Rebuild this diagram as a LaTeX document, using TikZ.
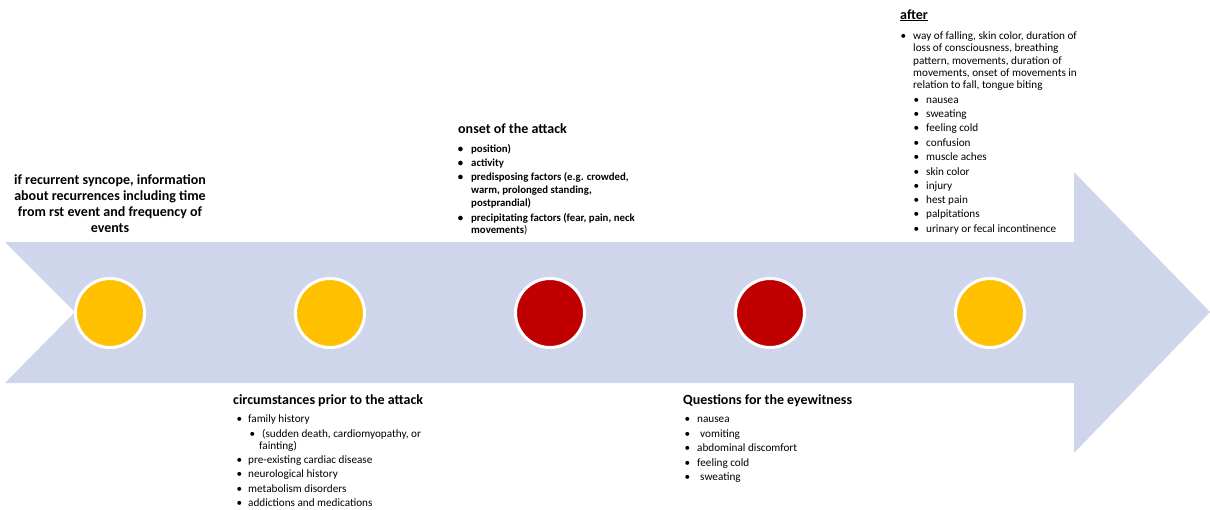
\documentclass[tikz,border=0pt]{standalone}
\usepackage{fontspec}
\setmainfont{Carlito}
\definecolor{band}{HTML}{CFD5EA}
\definecolor{gold}{HTML}{FFC000}
\definecolor{dred}{HTML}{C00000}
\newcommand{\bul}[1]{\llap{\textbullet\hspace{#1}}}
\begin{document}
\begin{tikzpicture}[x=1pt,y=-1pt,
  ln/.style={anchor=base west,inner sep=0pt,font=\fontsize{11.2}{12}\selectfont},
  lnb/.style={ln,font=\fontsize{10.8}{12}\selectfont\bfseries},
  head/.style={anchor=base west,inner sep=0pt,font=\fontsize{14}{16}\selectfont\bfseries},
  dot/.style={circle,draw=white,line width=3pt,minimum size=69pt,inner sep=0pt}]
\useasboundingbox (0,0) rectangle (1210,509);
% arrow band
\fill[band] (5,242) -- (1074,242) -- (1074,172) -- (1210,312) -- (1074,453) -- (1074,383) -- (5,383) -- (75,312) -- cycle;
% circles
\node[dot,fill=gold] (c1) at (110,313) {};
\node[dot,fill=gold] (c2) at (330,313) {};
\node[dot,fill=dred] (c3) at (550,313) {};
\node[dot,fill=dred] (c4) at (770,313) {};
\node[dot,fill=gold] (c5) at (990,313) {};
% left title
\node[anchor=base,inner sep=0pt,align=center,font=\fontsize{14}{16}\selectfont\bfseries] (t1) at (110,232)
 {if recurrent syncope, information\\about recurrences including time\\from rst event and frequency of\\events};
% onset
\node[head] (h3) at (458,133) {onset of the attack};
\node[lnb] (o1) at (471,152) {\bul{8pt}position)};
\node[lnb] (o2) at (471,166) {\bul{8pt}activity};
\node[lnb] (o3) at (471,180) {\bul{8pt}predisposing factors (e.g. crowded,};
\node[lnb] (o4) at (471,193) {warm, prolonged standing,};
\node[lnb] (o5) at (471,206) {postprandial)};
\node[lnb] (o6) at (471,221) {\bul{8pt}precipitating factors (fear, pain, neck};
\node[lnb] (o7) at (471,233) {movements\mdseries)};
% after
\node[head] (h5) at (900,19) {\underline{after}};
\node[ln] (a1) at (913,39) {\bul{7pt}way of falling, skin color, duration of};
\node[ln] (a2) at (913,51) {loss of consciousness, breathing};
\node[ln] (a3) at (913,64) {pattern, movements, duration of};
\node[ln] (a4) at (913,76) {movements, onset of movements in};
\node[ln] (a5) at (913,88) {relation to fall, tongue biting};
\node[ln] (b1) at (926,103) {\bul{7pt}nausea};
\node[ln] (b2) at (926,117) {\bul{7pt}sweating};
\node[ln] (b3) at (926,131) {\bul{7pt}feeling cold};
\node[ln] (b4) at (926,146) {\bul{7pt}confusion};
\node[ln] (b5) at (926,160) {\bul{7pt}muscle aches};
\node[ln] (b6) at (926,175) {\bul{7pt}skin color};
\node[ln] (b7) at (926,189) {\bul{7pt}injury};
\node[ln] (b8) at (926,203) {\bul{7pt}hest pain};
\node[ln] (b9) at (926,217) {\bul{7pt}palpitations};
\node[ln] (b10) at (926,232) {\bul{7pt}urinary or fecal incontinence};
% circumstances
\node[head] (h2) at (233,404) {circumstances prior to the attack};
\node[ln] (p1) at (248,422) {\bul{6pt}family history};
\node[ln] (p2) at (262,437) {\bul{7pt}(sudden death, cardiomyopathy, or};
\node[ln] (p3) at (259,449) {fainting)};
\node[ln] (p4) at (248,463) {\bul{6pt}pre-existing cardiac disease};
\node[ln] (p5) at (248,477) {\bul{6pt}neurological history};
\node[ln] (p6) at (248,492) {\bul{6pt}metabolism disorders};
\node[ln] (p7) at (248,506) {\bul{6pt}addictions and medications};
% eyewitness
\node[head] (h4) at (683,404) {Questions for the eyewitness};
\node[ln] (q1) at (697,422) {\bul{7pt}nausea};
\node[ln] (q2) at (700,437) {\bul{10pt}vomiting};
\node[ln] (q3) at (697,451) {\bul{7pt}abdominal discomfort};
\node[ln] (q4) at (697,466) {\bul{7pt}feeling cold};
\node[ln] (q5) at (700,480) {\bul{10pt}sweating};
\end{tikzpicture}
\end{document}
